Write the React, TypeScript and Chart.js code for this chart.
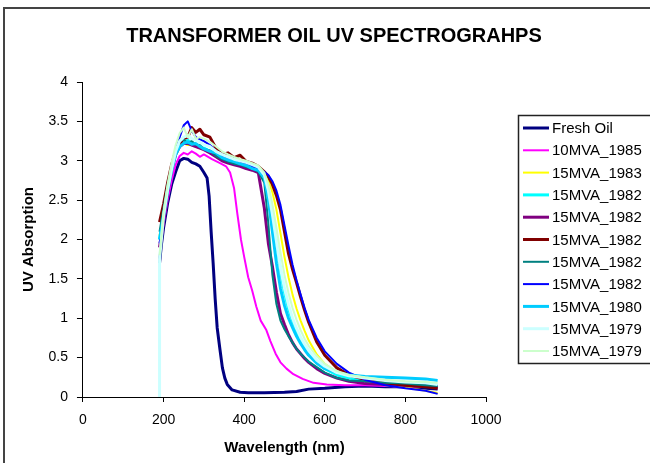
import React, { useEffect, useRef } from 'react';
import { Chart, registerables } from 'chart.js';

Chart.register(...registerables);

const TITLE = 'TRANSFORMER OIL UV SPECTROGRAHPS';
const X_TITLE = 'Wavelength (nm)';
const Y_TITLE = 'UV Absorption';
const X_TICKS = [0, 200, 400, 600, 800, 1000];
const Y_TICKS = [0, 0.5, 1, 1.5, 2, 2.5, 3, 3.5, 4];

const SERIES_LABELS = [
  'Fresh Oil', '10MVA_1985', '15MVA_1983', '15MVA_1982', '15MVA_1982', '15MVA_1982',
  '15MVA_1982', '15MVA_1982', '15MVA_1980', '15MVA_1979', '15MVA_1979',
];
const SERIES_COLORS = [
  '#000080', '#FF00FF', '#FFFF00', '#00FFFF', '#800080', '#800000',
  '#008080', '#0000FF', '#00CCFF', '#CCFFFF', '#CCFFCC',
];
const SERIES_WIDTHS = [3, 2, 2, 3, 3, 3, 2, 2, 3, 3, 2];

// Fresh oil
const FRESH_X = [190, 195, 200, 210, 220, 230, 240, 250, 260, 270, 280, 290, 300, 308, 313, 318, 323, 328, 333, 340, 346, 352, 358, 370, 390, 410, 450, 500, 530, 560, 600, 650, 700, 750, 800, 850, 880];
const FRESH_Y = [1.70, 1.95, 2.15, 2.46, 2.70, 2.86, 3.00, 3.03, 3.02, 2.98, 2.96, 2.93, 2.85, 2.78, 2.55, 2.10, 1.70, 1.25, 0.88, 0.60, 0.37, 0.24, 0.16, 0.09, 0.06, 0.055, 0.055, 0.06, 0.07, 0.10, 0.11, 0.13, 0.14, 0.13, 0.13, 0.11, 0.10];

// 10MVA_1985
const MVA10_X = [192, 200, 210, 220, 230, 240, 250, 260, 270, 280, 290, 300, 320, 340, 355, 365, 375, 383, 392, 400, 410, 420, 430, 441, 455, 465, 478, 490, 505, 522, 545, 572, 605, 650, 700, 750, 800, 850, 880];
const MVA10_Y = [1.9, 2.2, 2.5, 2.75, 2.95, 3.06, 3.1, 3.08, 3.12, 3.09, 3.05, 3.08, 3.02, 2.97, 2.93, 2.85, 2.65, 2.33, 2.0, 1.78, 1.52, 1.35, 1.15, 0.97, 0.85, 0.71, 0.55, 0.44, 0.36, 0.29, 0.23, 0.18, 0.16, 0.15, 0.15, 0.14, 0.13, 0.13, 0.12];

// 15MVA series share one wavelength grid
const CLUSTER_X = [190, 200, 210, 220, 230, 240, 250, 260, 270, 280, 290, 300, 315, 330, 345, 360, 375, 390, 405, 420, 435, 450, 460, 470, 480, 490, 500, 510, 520, 530, 540, 550, 560, 580, 600, 630, 660, 700, 750, 800, 850, 880];
const MVA15_1983_Y = [2.05, 2.35, 2.66, 2.9, 3.08, 3.18, 3.22, 3.2, 3.2, 3.18, 3.16, 3.14, 3.1, 3.05, 3.0, 2.98, 2.96, 2.95, 2.92, 2.9, 2.88, 2.84, 2.75, 2.6, 2.38, 2.08, 1.78, 1.52, 1.3, 1.12, 0.97, 0.84, 0.72, 0.54, 0.42, 0.31, 0.25, 0.2, 0.15, 0.12, 0.08, 0.05];
const MVA15_1982A_Y = [2.0, 2.32, 2.64, 2.9, 3.1, 3.2, 3.24, 3.26, 3.22, 3.2, 3.18, 3.16, 3.12, 3.08, 3.02, 3.0, 2.98, 2.96, 2.93, 2.9, 2.87, 2.8, 2.6, 2.3, 1.95, 1.6, 1.33, 1.12, 0.97, 0.84, 0.73, 0.64, 0.56, 0.44, 0.36, 0.28, 0.24, 0.21, 0.19, 0.17, 0.16, 0.14];
const MVA15_1982B_Y = [1.9, 2.25, 2.6, 2.88, 3.08, 3.18, 3.22, 3.22, 3.2, 3.18, 3.16, 3.14, 3.1, 3.05, 3.0, 2.97, 2.95, 2.93, 2.9, 2.88, 2.85, 2.4, 1.95, 1.66, 1.33, 1.06, 0.92, 0.79, 0.69, 0.61, 0.55, 0.49, 0.44, 0.36, 0.3, 0.24, 0.2, 0.17, 0.16, 0.15, 0.14, 0.13];
const MVA15_1982C_Y = [2.22, 2.45, 2.72, 2.95, 3.12, 3.22, 3.28, 3.3, 3.42, 3.36, 3.4, 3.33, 3.3, 3.16, 3.08, 3.1, 3.04, 3.07, 2.99, 2.97, 2.93, 2.86, 2.8, 2.7, 2.56, 2.38, 2.1, 1.82, 1.62, 1.45, 1.27, 1.1, 0.95, 0.7, 0.53, 0.37, 0.28, 0.22, 0.18, 0.15, 0.13, 0.11];
const MVA15_1982D_Y = [2.1, 2.4, 2.7, 2.92, 3.1, 3.25, 3.27, 3.22, 3.25, 3.2, 3.2, 3.15, 3.13, 3.06, 3.02, 2.99, 2.96, 2.95, 2.92, 2.9, 2.86, 2.72, 2.2, 1.55, 1.18, 0.97, 0.86, 0.77, 0.69, 0.61, 0.55, 0.5, 0.45, 0.38, 0.31, 0.24, 0.21, 0.2, 0.18, 0.17, 0.15, 0.14];
const MVA15_1982E_Y = [1.95, 2.3, 2.62, 2.9, 3.12, 3.3, 3.45, 3.5, 3.38, 3.3, 3.27, 3.25, 3.2, 3.12, 3.05, 3.02, 3.0, 2.98, 2.96, 2.93, 2.9, 2.86, 2.82, 2.74, 2.62, 2.44, 2.18, 1.92, 1.68, 1.48, 1.3, 1.13, 0.98, 0.75, 0.58, 0.42, 0.31, 0.22, 0.15, 0.11, 0.08, 0.04];
const MVA15_1980_Y = [2.0, 2.3, 2.62, 2.88, 3.08, 3.18, 3.22, 3.24, 3.21, 3.22, 3.18, 3.15, 3.12, 3.1, 3.04, 3.01, 2.99, 2.96, 2.94, 2.9, 2.88, 2.78, 2.5, 2.1, 1.7, 1.38, 1.16, 1.0, 0.88, 0.77, 0.68, 0.6, 0.53, 0.43, 0.36, 0.31, 0.28, 0.26, 0.25, 0.24, 0.23, 0.21];
const MVA15_1979A_X = [189, ...CLUSTER_X];
const MVA15_1979A_Y = [0, 1.75, 2.3, 2.63, 2.9, 3.12, 3.25, 3.3, 3.32, 3.28, 3.26, 3.24, 3.2, 3.18, 3.12, 3.08, 3.05, 3.02, 3.0, 2.98, 2.95, 2.92, 2.82, 2.62, 2.32, 1.98, 1.64, 1.38, 1.17, 1.0, 0.87, 0.76, 0.67, 0.59, 0.47, 0.39, 0.31, 0.27, 0.24, 0.21, 0.19, 0.18, 0.16];
const MVA15_1979B_Y = [1.8, 2.35, 2.7, 2.98, 3.2, 3.35, 3.42, 3.3, 3.4, 3.28, 3.3, 3.28, 3.24, 3.18, 3.12, 3.08, 3.05, 3.02, 3.0, 2.97, 2.94, 2.85, 2.7, 2.45, 2.15, 1.84, 1.55, 1.32, 1.13, 0.98, 0.85, 0.74, 0.65, 0.52, 0.42, 0.33, 0.28, 0.25, 0.22, 0.2, 0.19, 0.18];

const SERIES_X = [FRESH_X, MVA10_X, CLUSTER_X, CLUSTER_X, CLUSTER_X, CLUSTER_X, CLUSTER_X, CLUSTER_X, CLUSTER_X, MVA15_1979A_X, CLUSTER_X];
const SERIES_Y = [FRESH_Y, MVA10_Y, MVA15_1983_Y, MVA15_1982A_Y, MVA15_1982B_Y, MVA15_1982C_Y, MVA15_1982D_Y, MVA15_1982E_Y, MVA15_1980_Y, MVA15_1979A_Y, MVA15_1979B_Y];

const FONT = '"Liberation Sans", Arial, sans-serif';

const decorPlugin = {
  id: 'decor',
  beforeDraw(chart: any) {
    const ctx = chart.ctx;
    ctx.save();
    ctx.fillStyle = '#fff';
    ctx.fillRect(0, 0, chart.width, chart.height);
    ctx.strokeStyle = '#444';
    ctx.lineWidth = 2;
    ctx.beginPath();
    ctx.moveTo(4, chart.height + 5);
    ctx.lineTo(4, 8);
    ctx.lineTo(chart.width + 5, 8);
    ctx.stroke();
    ctx.restore();
  },
  afterDraw(chart: any) {
    const ctx = chart.ctx;
    ctx.save();
    ctx.fillStyle = '#000';
    ctx.font = `bold 20px ${FONT}`;
    ctx.textAlign = 'center';
    ctx.textBaseline = 'middle';
    ctx.fillText(TITLE, 334, 36);

    // legend
    const left = 518.5;
    const top = 115.5;
    const step = 22.3;
    ctx.strokeStyle = '#222';
    ctx.lineWidth = 1.5;
    ctx.strokeRect(left, top, 200, 248);
    ctx.font = `15px ${FONT}`;
    ctx.textAlign = 'left';
    chart.data.datasets.forEach((ds: any, i: number) => {
      const y = 128 + i * step;
      ctx.strokeStyle = ds.borderColor;
      ctx.lineWidth = ds.borderWidth;
      ctx.beginPath();
      ctx.moveTo(523, y);
      ctx.lineTo(549, y);
      ctx.stroke();
      ctx.fillStyle = '#000';
      ctx.fillText(ds.label, 552, y + 1);
    });
    ctx.restore();
  },
};

export default function App() {
  const ref = useRef<HTMLCanvasElement | null>(null);
  useEffect(() => {
    if (!ref.current) return;
    const n = SERIES_LABELS.length;
    const datasets = SERIES_LABELS.map((label, i) => ({
      label,
      data: SERIES_X[i].map((x, j) => ({ x, y: SERIES_Y[i][j] })),
      borderColor: SERIES_COLORS[i],
      backgroundColor: SERIES_COLORS[i],
      borderWidth: SERIES_WIDTHS[i],
      pointRadius: 0,
      tension: 0,
      borderJoinStyle: 'round' as const,
      fill: false,
      order: n - i,
    }));
    const tickFont = { family: FONT, size: 14 };
    const titleFont = { family: FONT, size: 15, weight: 'bold' as const };
    const chart = new Chart(ref.current, {
      type: 'line',
      data: { datasets },
      plugins: [decorPlugin],
      options: {
        animation: false,
        responsive: false,
        layout: { padding: { left: 10.5, right: 164, top: 82, bottom: 6.2 } },
        plugins: { legend: { display: false }, title: { display: false }, tooltip: { enabled: false } },
        scales: {
          x: {
            type: 'linear',
            min: 0,
            max: 1000,
            afterBuildTicks: (s: any) => { s.ticks = X_TICKS.map((v) => ({ value: v })); },
            ticks: { font: tickFont, color: '#000', padding: 10, maxRotation: 0, callback: (v: any) => String(v) },
            grid: { drawOnChartArea: false, drawTicks: true, tickLength: 5, color: '#000', lineWidth: 1 },
            border: { color: '#000', width: 1 },
            title: { display: true, text: X_TITLE, font: titleFont, color: '#000', padding: { top: 0, bottom: 0 } },
          },
          y: {
            type: 'linear',
            min: 0,
            max: 4,
            afterBuildTicks: (s: any) => { s.ticks = Y_TICKS.map((v) => ({ value: v })); },
            ticks: { font: tickFont, color: '#000', padding: 9, callback: (v: any) => String(v) },
            grid: { drawOnChartArea: false, drawTicks: true, tickLength: 6, color: '#000', lineWidth: 1 },
            border: { color: '#000', width: 1 },
            title: { display: true, text: Y_TITLE, font: titleFont, color: '#000', padding: { top: 9, bottom: 2 } },
          },
        },
      },
    });
    return () => chart.destroy();
  }, []);
  return (
    <div style={{ position: 'absolute', left: 0, top: 0, width: 650, height: 463, background: '#fff' }}>
      <canvas ref={ref} width={650} height={463} style={{ display: 'block' }} />
    </div>
  );
}
